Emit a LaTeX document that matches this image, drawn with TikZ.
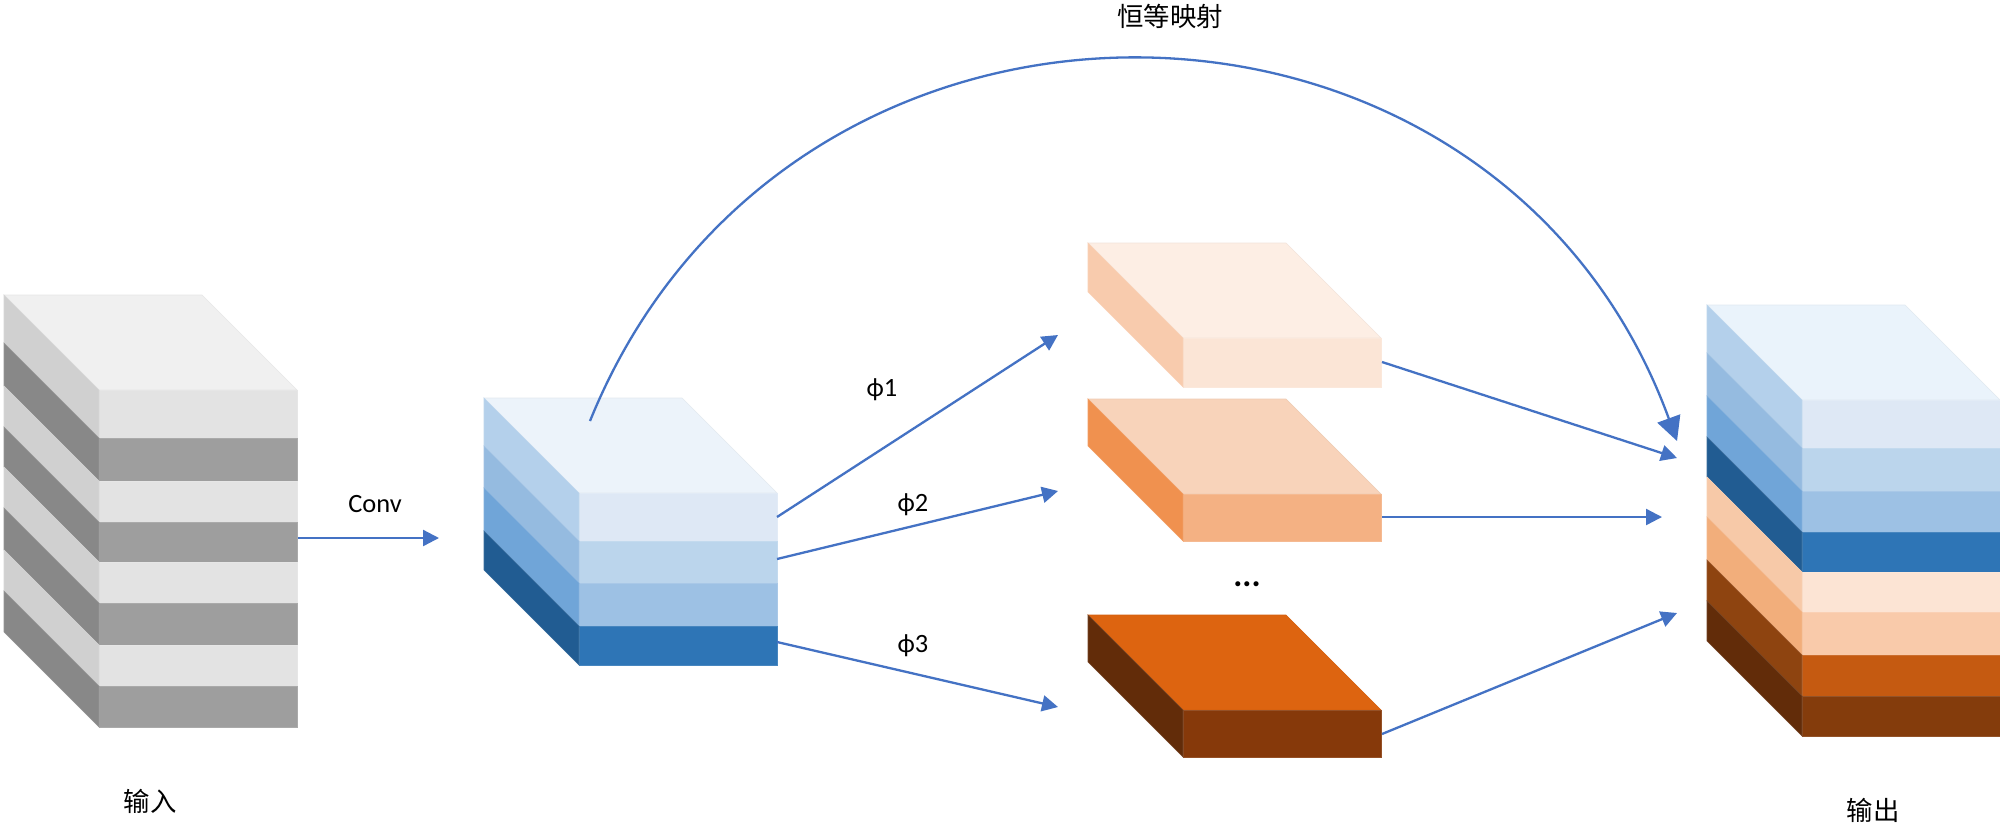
\documentclass[tikz,border=0pt]{standalone}
\usepackage{fontspec}
\setmainfont{Carlito}
\newfontfamily\cjk{Noto Sans CJK SC}
\usetikzlibrary{arrows.meta}
\definecolor{arrowblue}{HTML}{4472C4}
\tikzset{
  conn/.style={draw=arrowblue,line width=1.15pt,-{Triangle[length=8pt,width=8pt]}},
  bigconn/.style={draw=arrowblue,line width=1.15pt,-{Triangle[length=12pt,width=12pt]}},
  lab/.style={font=\fontsize{13.2}{15}\selectfont,text=black,inner sep=0pt},
  dotlab/.style={font=\bfseries\fontsize{17}{18}\selectfont,text=black,inner sep=0pt},
  cjklab/.style={font=\fontsize{13.2}{15}\cjk,text=black,inner sep=0pt},
}
\newcommand\slab[5]{%
  \definecolor{slabfront}{HTML}{#4}%
  \definecolor{slabside}{HTML}{#5}%
  \filldraw[line width=.3pt,draw=slabfront!88!white,fill=slabfront] (#1+95,#2) rectangle (#1+293,#3);
  \filldraw[line width=.3pt,draw=slabside!88!white,fill=slabside] (#1,#2-95) -- (#1+95,#2) -- (#1+95,#3) -- (#1,#3-95) -- cycle;
}
\newcommand\topface[3]{%
  \definecolor{slabtop}{HTML}{#3}%
  \filldraw[line width=.3pt,draw=slabtop!96!black,fill=slabtop] (#1,#2-95) -- (#1+198,#2-95) -- (#1+293,#2) -- (#1+95,#2) -- cycle;
}
\begin{document}
\begin{tikzpicture}[x=0.5pt,y=-0.5pt]
\clip (0,0) rectangle (2000,825);
\fill[white] (0,0) rectangle (2000,825);
% input stack
\topface{4}{390}{F0F0F0}
\slab{4}{390}{438}{E3E3E3}{D0D0D0}
\slab{4}{438}{481}{9E9E9E}{888888}
\slab{4}{481}{522}{E3E3E3}{D0D0D0}
\slab{4}{522}{562}{9E9E9E}{888888}
\slab{4}{562}{603}{E3E3E3}{D0D0D0}
\slab{4}{603}{645}{9E9E9E}{888888}
\slab{4}{645}{686}{E3E3E3}{D0D0D0}
\slab{4}{686}{727}{9E9E9E}{888888}
% conv stack
\topface{484}{493}{ECF3FA}
\slab{484}{493}{541}{DEE8F5}{B4D0EB}
\slab{484}{541}{583}{BBD5EC}{95BBE0}
\slab{484}{583}{626}{9DC1E4}{70A5D8}
\slab{484}{626}{665}{2E75B6}{215C92}
% branch blocks
\topface{1088}{338}{FDEEE4}
\slab{1088}{338}{387}{FBE5D6}{F8CBAD}
\topface{1088}{494}{F8D3BA}
\slab{1088}{494}{541}{F4B183}{F0914F}
\topface{1088}{710}{DD6410}
\slab{1088}{710}{757}{86390A}{622C09}
% output stack
\topface{1707}{400}{EAF3FB}
\slab{1707}{400}{448}{DEE8F5}{B4D0EB}
\slab{1707}{448}{491}{BBD5EC}{95BBE0}
\slab{1707}{491}{532}{9DC1E4}{70A5D8}
\slab{1707}{532}{572}{2E75B6}{215C92}
\slab{1707}{572}{612}{FCE4D4}{F7C9A8}
\slab{1707}{612}{655}{F9CAAA}{F2AE7B}
\slab{1707}{655}{696}{C55A11}{8E4410}
\slab{1707}{696}{736}{843C0C}{622C09}
% connector ends
\coordinate (inR) at (298,538);
\coordinate (convT) at (439,538);
\coordinate (midA) at (777,517);
\coordinate (midB) at (777,559);
\coordinate (midC) at (777,642);
\coordinate (midTop) at (590,421);
\coordinate (blkAin) at (1058,335);
\coordinate (blkBin) at (1058,491);
\coordinate (blkCin) at (1058,707);
\coordinate (blkAout) at (1382,362);
\coordinate (blkBout) at (1382,517);
\coordinate (blkCout) at (1382,734);
\coordinate (outA) at (1677,458);
\coordinate (outB) at (1662,517);
\coordinate (outC) at (1677,613);
\coordinate (outTop) at (1677,441);
\draw[conn] (inR) -- (convT);
\draw[conn] (midA) -- (blkAin);
\draw[conn] (midB) -- (blkBin);
\draw[conn] (midC) -- (blkCin);
\draw[conn] (blkAout) -- (outA);
\draw[conn] (blkBout) -- (outB);
\draw[conn] (blkCout) -- (outC);
\draw[bigconn] (midTop) .. controls (789,-70) and (1495,-57) .. (outTop);
% labels
\node[lab] (conv) at (375,504) {Conv};
\node[lab] (phiA) at (882,390) {ϕ1};
\node[lab] (phiB) at (913,505) {ϕ2};
\node[lab] (phiC) at (913,646) {ϕ3};
\node[dotlab] (dots) at (1247,584) {...};
\node[cjklab] (inL) at (150,801) {输入};
\node[cjklab] (outL) at (1873,810) {输出};
\node[cjklab] (idL) at (1170,16) {恒等映射};
\end{tikzpicture}
\end{document}
